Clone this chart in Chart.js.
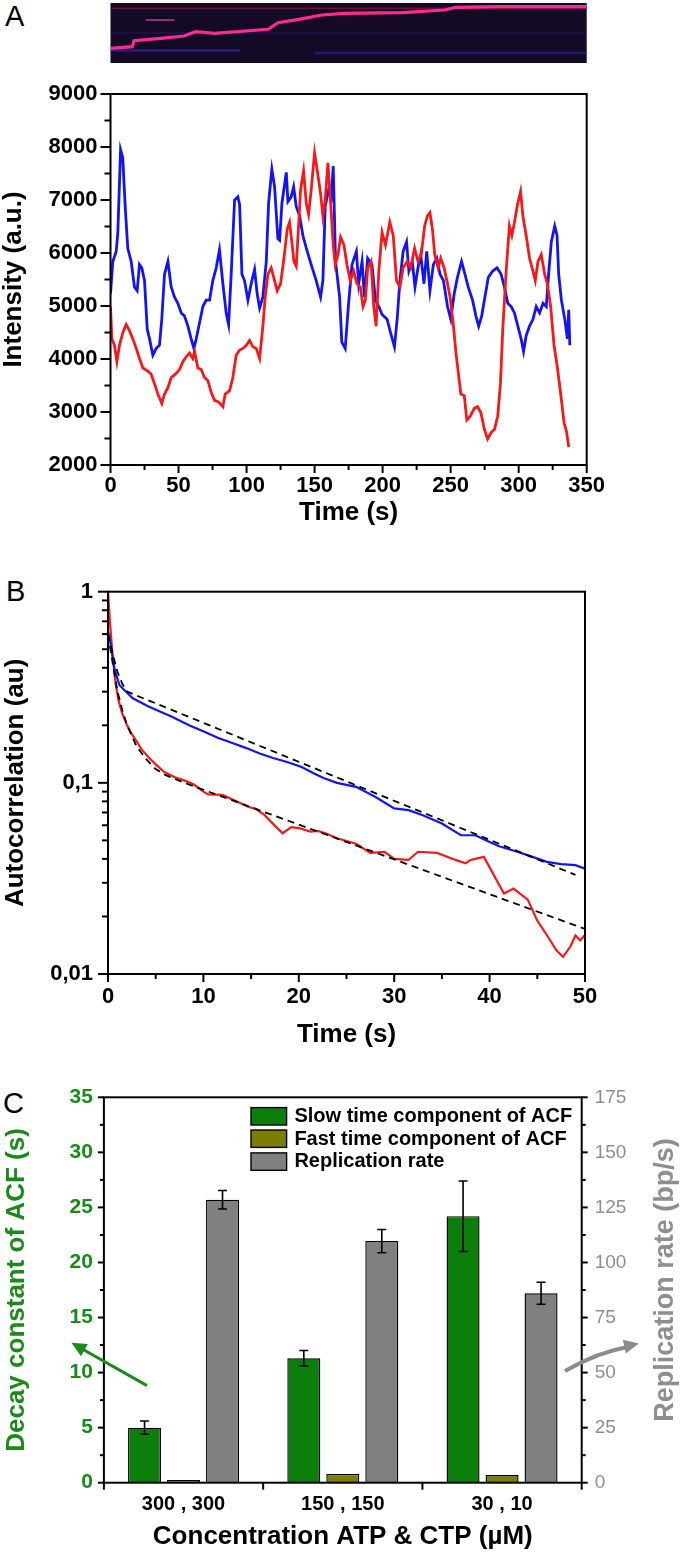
<!DOCTYPE html>
<html>
<head>
<meta charset="UTF-8">
<title>Intensity, autocorrelation and decay constants</title>
<script src="https://cdn.jsdelivr.net/npm/chart.js"></script>
<style>
  body { margin: 0; background: #fff; width: 680px; height: 1553px; position: relative; overflow: hidden; }
  canvas { position: absolute; left: 0; }
  .panel { position: absolute; font: 29px "Liberation Sans", Arial, sans-serif; line-height: 29px; color: #000; }
</style>
</head>
<body>
<div class="panel" style="left:5px; top:2px;">A</div>
<div class="panel" style="left:6px; top:577px;">B</div>
<div class="panel" style="left:3px; top:1089px;">C</div>
<canvas id="kymo" width="680" height="70" style="top:0px"></canvas>
<canvas id="chartA" width="680" height="470" style="top:70px"></canvas>
<canvas id="chartB" width="680" height="510" style="top:545px"></canvas>
<canvas id="chartC" width="680" height="493" style="top:1060px"></canvas>
<script>
// ---- kymograph (trace position over time) ----
const kymoTime = [0, 16, 17.3, 37, 54, 62.4, 76.5, 115.9, 123, 138.5, 155.3, 172.2, 214.5, 245.4, 253.9, 284.8, 350];
const kymoPos = [14.7, 16.3, 22.3, 24.7, 27, 31.3, 29.7, 33.7, 40.3, 43.7, 48, 49.7, 50.3, 53, 55.7, 56.3, 56.3];

// ---- panel A: intensity traces ----
const blueTime = [0,1.7,4.2,5.4,7.4,9,10.8,12.7,15.2,17.6,19.6,21.3,23,25,27,28.7,31.1,33.6,36,37.7,39.7,42.2,44.6,47,49.5,52,54.4,56.9,59.3,61.3,63,65.4,67.9,70.3,72.8,75.2,77.7,80.1,82.6,85,86.8,88.7,91.2,93.6,94.9,96.6,98.5,101,103.4,105.9,107.8,109.6,112,114.5,116.2,118.6,120.6,123,124.3,126,129.2,130.4,132.8,134.6,136.5,139,141.4,143.9,147.5,151.2,154.4,156.1,157.8,160.3,162.3,163.7,165.4,168.4,170,172.5,175,177.5,180.7,182.4,184.9,186.6,189,192.2,194.7,197.2,199.6,203.3,205.8,208.7,210.7,212.7,215.1,217.6,219.3,221.8,223.8,226,228,230.4,232.4,234.8,237.3,239.8,242.2,244.7,247.7,250.1,252.6,255,258,260.5,262.9,266.1,268.6,270.6,272.8,275.2,277.7,280.9,284.1,287.1,289.5,292,294.5,296.9,299.4,301.8,303.6,305.5,308,310.5,312.9,315.4,317.9,320.3,322,324,326.5,328.2,329.4,331.4,333.9,335.8,336.8,337.6];
const blueIntensity = [5230,5840,6030,6390,7950,7800,6880,6090,5840,5360,5290,5780,5720,5480,4560,4380,4070,4200,4260,4750,5600,5840,5360,5170,5050,4870,4810,4620,4380,4200,4380,4680,4990,5110,5110,5480,5720,6060,5420,4870,4650,5600,7000,7060,6910,5600,5480,5110,5420,5690,5230,4960,5170,5840,6940,7580,7250,6270,6240,6940,7520,6970,7060,7250,6880,6700,6330,6090,5780,5480,5170,5480,6880,7190,7060,7640,5840,5170,4320,4200,5050,5780,6030,5420,5840,5170,5900,5780,5110,4990,4840,4750,4500,4230,4750,5480,6030,6210,5660,5840,5360,5720,5970,5420,6030,5290,5780,5900,5600,5480,4990,4750,5230,5540,5840,5600,5360,5110,4810,4620,4810,5170,5540,5660,5720,5600,5360,5050,4990,4870,4620,4380,4140,4440,4620,4750,4990,4870,5050,4990,5600,6210,6510,6330,5600,5110,4750,4380,4930,4260];
const redTime = [0,1,2.9,4.7,6.6,9.1,11.5,14,16.4,18.9,21.3,23.8,27.5,29.9,32.4,34.8,37.7,39.7,42.2,44.6,47.5,50.7,53.2,55.6,58.1,60.5,61.8,64.2,66.7,69.1,71.6,74,76.5,79.4,82.6,84.3,87.5,89.9,92.4,94.9,97.3,99.8,102.2,104.7,107.1,109.6,112,113.7,115.7,118.1,120.6,122.5,125,127.5,129.9,131.6,133.3,134.8,136.5,137.7,139.7,141.9,143.9,145.6,147.5,150,152,154.4,156.1,157.8,159.8,161.8,163.7,165.2,167.2,169.1,171.6,173.8,176.2,178.7,181.2,183.6,185.6,187.3,189,191.5,193.5,195.2,197.2,199.6,202.1,205.3,207.8,210.2,212.7,215.1,218.1,220.6,223.5,226,228.4,230.9,232.9,234.8,236.6,238.3,240.8,242.7,245.2,247.7,249.6,252.1,253.8,255.5,257.5,260,261.9,264.4,267.4,269.8,272.3,274.8,277.2,279.7,282.2,284.6,286.6,288.3,290.8,293.2,295,296.9,298.9,301.4,303.1,305.5,308,310.5,312.2,314.2,316.6,319.1,321.1,323.5,326,328.5,330.9,333.4,335.1,336.8];
const redIntensity = [4990,4380,4260,3950,4260,4500,4650,4530,4380,4200,4010,3830,3770,3710,3530,3340,3160,3340,3460,3650,3710,3800,3950,4040,4110,4010,4140,3830,3800,3650,3590,3370,3220,3190,3100,3340,3400,3650,4070,4170,4200,4260,4350,4230,4200,4010,4620,5170,5600,5720,5480,5290,5420,5900,6450,6580,6210,5840,5750,6270,7190,7550,6940,6730,7190,7890,7550,7120,6700,7000,7700,6940,6150,5780,5970,6300,6150,5780,5480,5660,5420,5360,4990,5110,5720,5840,4990,4620,5660,6390,6150,6580,6330,5480,5360,5720,5840,5720,6090,5840,5970,6510,6700,6760,6450,5970,5720,5900,5720,5420,5170,4620,4140,3770,3340,3310,2850,2920,3070,3100,2980,2670,2490,2610,2670,2920,3530,4560,5660,6510,6330,6580,6880,7160,6700,6330,5900,5660,5480,5840,5970,5600,5420,4990,4260,3830,3340,2790,2640,2340];
const timeTicksA = [0, 50, 100, 150, 200, 250, 300, 350];
const timeMinorA = [25, 75, 125, 175, 225, 275, 325];
const intensityTicks = [2000, 3000, 4000, 5000, 6000, 7000, 8000, 9000];
const intensityMinor = [2500, 3500, 4500, 5500, 6500, 7500, 8500];

// ---- panel B: autocorrelation ----
const blueAcfTime = [0,0.2,0.7,1.2,1.6,2.6,4.3,6.7,8.5,10.1,11.5,13.1,14.5,15.9,17.3,18.7,20.3,21.6,22.6,24,26,28,30,31.5,33,35,37,38.5,40,41,43,44.5,46,47.5,49,50];
const blueAcf = [0.62,0.56,0.39,0.325,0.31,0.277,0.25,0.222,0.2,0.185,0.172,0.161,0.152,0.1425,0.135,0.129,0.121,0.112,0.106,0.1,0.0953,0.0845,0.0735,0.072,0.0677,0.0613,0.0532,0.0532,0.0491,0.0466,0.0435,0.041,0.0386,0.0376,0.0371,0.0356];
const redAcfTime = [0,0.2,0.5,0.8,1.1,1.5,2,2.5,3,3.5,4.2,5,5.9,7,8,9,10,10.5,12,13,14.7,15.5,16.4,17.1,18.3,19.2,20,21.2,22,23,24,26,27.5,29,30,31.5,32.5,34.5,36.5,37.5,38,39.4,41.5,42.5,44,45,46,47,47.7,48.5,49,49.5,50];
const redAcf = [1.0,0.7,0.45,0.33,0.27,0.23,0.2,0.18,0.165,0.15,0.137,0.125,0.114,0.107,0.103,0.098,0.09,0.087,0.0865,0.082,0.075,0.073,0.068,0.0625,0.0545,0.0586,0.058,0.0556,0.056,0.054,0.0513,0.048,0.043,0.0435,0.04,0.0395,0.0436,0.043,0.0394,0.038,0.0395,0.041,0.0264,0.028,0.0245,0.019,0.016,0.0133,0.0123,0.014,0.0159,0.015,0.016];
const blueFitTime = [0, 0.5, 1, 1.5, 2, 49];
const blueFit = [0.6, 0.47, 0.38, 0.33, 0.3, 0.033];
const redFitTime = [0, 0.5, 1, 1.5, 2, 3, 4, 5, 6, 8, 50];
const redFit = [0.6, 0.42, 0.3, 0.24, 0.2, 0.155, 0.133, 0.118, 0.11, 0.1, 0.0172];
const timeTicksB = [0, 10, 20, 30, 40, 50];
const timeMinorB = [5, 15, 25, 35, 45];
const acfTicks = [0.01, 0.1, 1];
const acfMinor = [0.02,0.03,0.04,0.05,0.06,0.07,0.08,0.09,0.2,0.3,0.4,0.5,0.6,0.7,0.8,0.9];

// ---- panel C: decay constants and replication rate ----
const concentrations = ['300 , 300', '150 , 150', '30 , 10'];
const slowDecay = [5.0, 11.3, 24.2];
const slowErr = [0.6, 0.7, 3.2];
const fastDecay = [0.25, 0.8, 0.7];
const replicationRate = [128.5, 109.7, 86.0];
const rateErr = [4.2, 5.3, 5.0];
const decayTicks = [0, 5, 10, 15, 20, 25, 30, 35];
const decayMinor = [2.5, 7.5, 12.5, 17.5, 22.5, 27.5, 32.5];
const rateTicks = [0, 25, 50, 75, 100, 125, 150, 175];
const rateMinor = [12.5, 37.5, 62.5, 87.5, 112.5, 137.5, 162.5];
const legendLabels = ['Slow time component of ACF', 'Fast time component of ACF', 'Replication rate'];

Chart.defaults.font.family = '"Liberation Sans", Arial, sans-serif';
Chart.defaults.color = '#000';

const pts = (xs, ys) => xs.map((x, i) => ({ x: x, y: ys[i] }));
const fixTicks = vals => scale => { scale.ticks = vals.map(v => ({ value: v })); };
const boldFont = size => ({ size: size, weight: 'bold', lineHeight: 1 });
const noGrid = { display: false, drawTicks: false };

// frame round the plot and the tick marks (major and minor), drawn outwards
const furniture = {
  id: 'furniture',
  afterDraw(chart, args, opts) {
    const ctx = chart.ctx, a = chart.chartArea;
    ctx.save();
    ctx.strokeStyle = '#000';
    ctx.lineWidth = 2;
    ctx.strokeRect(a.left, a.top, a.width, a.height);
    (opts.marks || []).forEach(m => {
      const s = chart.scales[m.axis];
      m.values.forEach(v => {
        const p = s.getPixelForValue(v);
        ctx.beginPath();
        if (s.isHorizontal()) { ctx.moveTo(p, a.bottom); ctx.lineTo(p, a.bottom + m.len); }
        else if (s.position === 'left') { ctx.moveTo(a.left, p); ctx.lineTo(a.left - m.len, p); }
        else { ctx.moveTo(a.right, p); ctx.lineTo(a.right + m.len, p); }
        ctx.stroke();
      });
    });
    ctx.restore();
  }
};

const baseOptions = {
  responsive: false,
  animation: false,
  events: [],
  elements: { point: { radius: 0 }, line: { tension: 0 } }
};

// kymograph strip
new Chart(document.getElementById('kymo'), {
  type: 'line',
  data: {
    datasets: [
      { data: pts(kymoTime, kymoPos), borderColor: '#ff2b8f', borderWidth: 3.2 },
      { data: pts([26, 47], [43, 43]), borderColor: 'rgba(200,60,170,0.7)', borderWidth: 2 },
      { data: pts([0, 350], [54.7, 54.7]), borderColor: 'rgba(170,20,60,0.6)', borderWidth: 1.5 },
      { data: pts([0, 95], [12.5, 12.5]), borderColor: 'rgba(50,50,210,0.55)', borderWidth: 2.5 },
      { data: pts([150, 350], [10, 10]), borderColor: 'rgba(45,45,200,0.45)', borderWidth: 2.5 },
      { data: pts([0, 350], [30, 30]), borderColor: 'rgba(40,40,150,0.25)', borderWidth: 2 }
    ]
  },
  options: Object.assign({}, baseOptions, {
    layout: { padding: { left: 110.5, right: 93.3, top: 3, bottom: 7 } },
    plugins: { legend: { display: false }, tooltip: { enabled: false } },
    scales: {
      x: { type: 'linear', min: 0, max: 350, display: false },
      y: { type: 'linear', min: 0, max: 60, display: false }
    }
  }),
  plugins: [{
    id: 'kymoBg',
    beforeDatasetsDraw(chart) {
      const a = chart.chartArea, ctx = chart.ctx;
      ctx.save();
      ctx.fillStyle = '#150a26';
      ctx.fillRect(a.left, a.top, a.width, a.height);
      ctx.restore();
    }
  }]
});

// panel A
new Chart(document.getElementById('chartA'), {
  type: 'line',
  data: {
    datasets: [
      { label: 'red', data: pts(redTime, redIntensity), borderColor: '#f21a1a', borderWidth: 2.8 },
      { label: 'blue', data: pts(blueTime, blueIntensity), borderColor: '#1414f0', borderWidth: 2.8 }
    ]
  },
  options: Object.assign({}, baseOptions, {
    layout: { padding: { left: 0, right: 93.3, top: 12.7, bottom: 0 } },
    plugins: {
      legend: { display: false }, tooltip: { enabled: false },
      furniture: { marks: [
        { axis: 'x', values: timeTicksA, len: 8 }, { axis: 'x', values: timeMinorA, len: 5 },
        { axis: 'y', values: intensityTicks, len: 10 }, { axis: 'y', values: intensityMinor, len: 6 }
      ] }
    },
    scales: {
      x: {
        type: 'linear', min: 0, max: 350,
        afterBuildTicks: fixTicks(timeTicksA),
        afterFit: s => { s.height = 75; },
        grid: noGrid, border: { display: false },
        ticks: { font: boldFont(22), padding: 10, maxRotation: 0, callback: v => String(v) },
        title: { display: true, text: 'Time (s)', font: boldFont(26), padding: { top: 0, bottom: 14 } }
      },
      y: {
        type: 'linear', min: 2000, max: 9000,
        afterBuildTicks: fixTicks(intensityTicks),
        afterFit: s => { s.width = 110.5; },
        grid: noGrid, border: { display: false },
        ticks: { font: boldFont(22), padding: 13, callback: v => String(v) },
        title: { display: true, text: 'Intensity (a.u.)', font: boldFont(26), padding: { top: 1, bottom: 0 } }
      }
    }
  }),
  plugins: [furniture]
});

// panel B
new Chart(document.getElementById('chartB'), {
  type: 'line',
  data: {
    datasets: [
      { label: 'blue fit', data: pts(blueFitTime, blueFit), borderColor: '#000', borderWidth: 1.8, borderDash: [7, 5] },
      { label: 'red fit', data: pts(redFitTime, redFit), borderColor: '#000', borderWidth: 1.8, borderDash: [7, 5] },
      { label: 'blue', data: pts(blueAcfTime, blueAcf), borderColor: '#1414f0', borderWidth: 2.2 },
      { label: 'red', data: pts(redAcfTime, redAcf), borderColor: '#f21a1a', borderWidth: 2.2 }
    ]
  },
  options: Object.assign({}, baseOptions, {
    layout: { padding: { left: 0, right: 95, top: 46.7, bottom: 0 } },
    plugins: {
      legend: { display: false }, tooltip: { enabled: false },
      furniture: { marks: [
        { axis: 'x', values: timeTicksB, len: 8 }, { axis: 'x', values: timeMinorB, len: 5 },
        { axis: 'y', values: acfTicks, len: 10 }, { axis: 'y', values: acfMinor, len: 6 }
      ] }
    },
    scales: {
      x: {
        type: 'linear', min: 0, max: 50,
        afterBuildTicks: fixTicks(timeTicksB),
        afterFit: s => { s.height = 81; },
        grid: noGrid, border: { display: false },
        ticks: { font: boldFont(22), padding: 12, maxRotation: 0, callback: v => String(v) },
        title: { display: true, text: 'Time (s)', font: boldFont(26), padding: { top: 0, bottom: 7 } }
      },
      y: {
        type: 'logarithmic', min: 0.01, max: 1,
        afterBuildTicks: fixTicks(acfTicks),
        afterFit: s => { s.width = 108; },
        grid: noGrid, border: { display: false },
        ticks: { font: boldFont(22), padding: 15, callback: v => String(v).replace('.', ',') },
        title: { display: true, text: 'Autocorrelation (au)', font: boldFont(26), padding: { top: 3, bottom: 0 } }
      }
    }
  }),
  plugins: [furniture]
});

// panel C extras: error bars, legend inside the plot, right title and arrows
const green = '#1b8a1b';
const greyText = '#8e8e8e';
const panelC = {
  id: 'panelC',
  afterDatasetsDraw(chart) {
    const ctx = chart.ctx;
    ctx.save();
    ctx.strokeStyle = '#000';
    ctx.lineWidth = 1.6;
    [[0, slowErr], [2, rateErr]].forEach(([di, errs]) => {
      const ds = chart.data.datasets[di];
      const meta = chart.getDatasetMeta(di);
      const sc = chart.scales[ds.yAxisID];
      meta.data.forEach((bar, i) => {
        const yHi = sc.getPixelForValue(ds.data[i] + errs[i]);
        const yLo = sc.getPixelForValue(ds.data[i] - errs[i]);
        ctx.beginPath();
        ctx.moveTo(bar.x, yHi); ctx.lineTo(bar.x, yLo);
        ctx.moveTo(bar.x - 4.5, yHi); ctx.lineTo(bar.x + 4.5, yHi);
        ctx.moveTo(bar.x - 4.5, yLo); ctx.lineTo(bar.x + 4.5, yLo);
        ctx.stroke();
      });
    });
    ctx.restore();
  },
  afterDraw(chart) {
    const ctx = chart.ctx, a = chart.chartArea;
    ctx.save();
    // legend
    const rowTop = [47.6, 70, 92.9];
    chart.data.datasets.forEach((ds, i) => {
      ctx.fillStyle = ds.backgroundColor;
      ctx.fillRect(251, rowTop[i], 35.6, 17.4);
      ctx.strokeStyle = '#000';
      ctx.lineWidth = 1.4;
      ctx.strokeRect(251, rowTop[i], 35.6, 17.4);
      ctx.fillStyle = '#000';
      ctx.font = 'bold 20px "Liberation Sans", Arial, sans-serif';
      ctx.textBaseline = 'middle';
      ctx.textAlign = 'left';
      ctx.fillText(legendLabels[i], 294.4, rowTop[i] + 9);
    });
    // right axis title, reading upwards
    ctx.save();
    ctx.translate(665.7, (a.top + a.bottom) / 2 - 10);
    ctx.rotate(-Math.PI / 2);
    ctx.fillStyle = greyText;
    ctx.font = 'bold 27px "Liberation Sans", Arial, sans-serif';
    ctx.textAlign = 'center';
    ctx.textBaseline = 'middle';
    ctx.fillText('Replication rate (bp/s)', 0, 0);
    ctx.restore();
    const head = (x0, y0, x1, y1, col) => {
      const ang = Math.atan2(y1 - y0, x1 - x0);
      ctx.fillStyle = col;
      ctx.beginPath();
      ctx.moveTo(x1, y1);
      ctx.lineTo(x1 - 15 * Math.cos(ang) + 7 * Math.sin(ang), y1 - 15 * Math.sin(ang) - 7 * Math.cos(ang));
      ctx.lineTo(x1 - 15 * Math.cos(ang) - 7 * Math.sin(ang), y1 - 15 * Math.sin(ang) + 7 * Math.cos(ang));
      ctx.closePath();
      ctx.fill();
    };
    // green arrow towards left axis
    ctx.strokeStyle = green;
    ctx.lineWidth = 3;
    ctx.beginPath();
    ctx.moveTo(147, 325.6);
    ctx.lineTo(80, 287.8);
    ctx.stroke();
    head(147, 325.6, 71.4, 282.8, green);
    // grey curved arrow towards right axis
    ctx.strokeStyle = '#8c8c8c';
    ctx.lineWidth = 4;
    ctx.beginPath();
    ctx.moveTo(565, 311);
    ctx.quadraticCurveTo(598, 292, 628, 287);
    ctx.stroke();
    head(600, 292, 639, 283.5, '#8c8c8c');
    ctx.restore();
  }
};

new Chart(document.getElementById('chartC'), {
  type: 'bar',
  data: {
    labels: concentrations,
    datasets: [
      { label: legendLabels[0], data: slowDecay, yAxisID: 'y', backgroundColor: '#0b7e0b', borderColor: '#000', borderWidth: 1.4 },
      { label: legendLabels[1], data: fastDecay, yAxisID: 'y', backgroundColor: '#7d7d05', borderColor: '#000', borderWidth: 1.4 },
      { label: legendLabels[2], data: replicationRate, yAxisID: 'y1', backgroundColor: '#808080', borderColor: '#000', borderWidth: 1.4 }
    ]
  },
  options: Object.assign({}, baseOptions, {
    categoryPercentage: 0.7345,
    barPercentage: 0.846,
    layout: { padding: { left: 0, right: 0, top: 37.3, bottom: 0 } },
    plugins: {
      legend: { display: false }, tooltip: { enabled: false },
      furniture: { marks: [
        { axis: 'x', values: [-0.5, 0.5, 1.5, 2.5], len: 7 },
        { axis: 'y', values: decayTicks, len: 6 }, { axis: 'y', values: decayMinor, len: 4 },
        { axis: 'y1', values: rateTicks, len: 6 }, { axis: 'y1', values: rateMinor, len: 4 }
      ] }
    },
    scales: {
      x: {
        afterFit: s => { s.height = 70.3; },
        grid: noGrid, border: { display: false },
        ticks: { font: boldFont(20), padding: 12, maxRotation: 0 },
        title: { display: true, text: 'Concentration ATP & CTP (µM)', font: boldFont(26), padding: { top: 0, bottom: 3 } }
      },
      y: {
        position: 'left', min: 0, max: 35,
        afterBuildTicks: fixTicks(decayTicks),
        afterFit: s => { s.width = 103.9; },
        grid: noGrid, border: { display: false },
        ticks: { font: boldFont(21), color: green, padding: 11, callback: v => String(v) },
        title: { display: true, text: 'Decay constant of ACF (s)', color: green, font: boldFont(26), padding: { top: 4, bottom: 0 } }
      },
      y1: {
        position: 'right', min: 0, max: 175,
        afterBuildTicks: fixTicks(rateTicks),
        afterFit: s => { s.width = 98.3; },
        grid: noGrid, border: { display: false },
        ticks: { font: { size: 19, lineHeight: 1 }, color: greyText, padding: 13, callback: v => String(v) }
      }
    }
  }),
  plugins: [furniture, panelC]
});
</script>
</body>
</html>
